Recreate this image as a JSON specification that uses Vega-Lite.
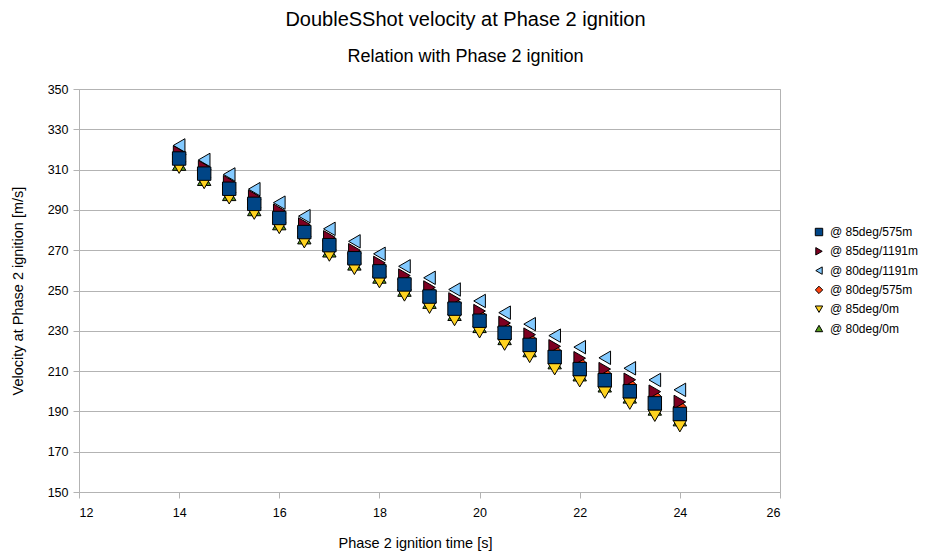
{
  "$schema": "https://vega.github.io/schema/vega-lite/v6.json",
  "width": 701,
  "height": 403,
  "autosize": {"type": "none"},
  "padding": {"left": 79, "top": 89, "right": 150, "bottom": 61},
  "background": "white",
  "config": {
    "font": "Liberation Sans",
    "view": {"stroke": "#b3b3b3", "strokeWidth": 1},
    "axis": {"labelFont": "Liberation Sans", "titleFont": "Liberation Sans", "labelColor": "#000", "titleColor": "#000", "titleFontWeight": "normal", "labelFontSize": 12.5, "titleFontSize": 14.5, "domainColor": "#b3b3b3", "tickColor": "#b3b3b3", "gridColor": "#b3b3b3", "tickSize": 6}
  },
  "title": {
    "text": "DoubleSShot velocity at Phase 2 ignition",
    "subtitle": "Relation with Phase 2 ignition",
    "fontSize": 20,
    "fontWeight": "normal",
    "subtitleFontSize": 18,
    "subtitleColor": "#000",
    "color": "#000",
    "font": "Liberation Sans",
    "subtitleFont": "Liberation Sans",
    "anchor": "middle",
    "dx": 36,
    "offset": 17,
    "subtitlePadding": 18
  },
  "data": {
    "values": [
      {"s": "@ 80deg/0m", "t": 14, "v": 312.5},
      {"s": "@ 80deg/0m", "t": 14.5, "v": 305},
      {"s": "@ 80deg/0m", "t": 15, "v": 297.5},
      {"s": "@ 80deg/0m", "t": 15.5, "v": 290},
      {"s": "@ 80deg/0m", "t": 16, "v": 283},
      {"s": "@ 80deg/0m", "t": 16.5, "v": 276},
      {"s": "@ 80deg/0m", "t": 17, "v": 269.5},
      {"s": "@ 80deg/0m", "t": 17.5, "v": 263},
      {"s": "@ 80deg/0m", "t": 18, "v": 256.5},
      {"s": "@ 80deg/0m", "t": 18.5, "v": 250},
      {"s": "@ 80deg/0m", "t": 19, "v": 244},
      {"s": "@ 80deg/0m", "t": 19.5, "v": 238},
      {"s": "@ 80deg/0m", "t": 20, "v": 232},
      {"s": "@ 80deg/0m", "t": 20.5, "v": 226},
      {"s": "@ 80deg/0m", "t": 21, "v": 220},
      {"s": "@ 80deg/0m", "t": 21.5, "v": 214},
      {"s": "@ 80deg/0m", "t": 22, "v": 208},
      {"s": "@ 80deg/0m", "t": 22.5, "v": 202.5},
      {"s": "@ 80deg/0m", "t": 23, "v": 197},
      {"s": "@ 80deg/0m", "t": 23.5, "v": 191},
      {"s": "@ 80deg/0m", "t": 24, "v": 185.7},

      {"s": "@ 80deg/575m", "t": 14, "v": 317.5},
      {"s": "@ 80deg/575m", "t": 14.5, "v": 310},
      {"s": "@ 80deg/575m", "t": 15, "v": 302.5},
      {"s": "@ 80deg/575m", "t": 15.5, "v": 295},
      {"s": "@ 80deg/575m", "t": 16, "v": 288},
      {"s": "@ 80deg/575m", "t": 16.5, "v": 281},
      {"s": "@ 80deg/575m", "t": 17, "v": 274.6},
      {"s": "@ 80deg/575m", "t": 17.5, "v": 268.2},
      {"s": "@ 80deg/575m", "t": 18, "v": 261.8},
      {"s": "@ 80deg/575m", "t": 18.5, "v": 255.4},
      {"s": "@ 80deg/575m", "t": 19, "v": 249.5},
      {"s": "@ 80deg/575m", "t": 19.5, "v": 243.6},
      {"s": "@ 80deg/575m", "t": 20, "v": 237.7},
      {"s": "@ 80deg/575m", "t": 20.5, "v": 231.8},
      {"s": "@ 80deg/575m", "t": 21, "v": 225.9},
      {"s": "@ 80deg/575m", "t": 21.5, "v": 220},
      {"s": "@ 80deg/575m", "t": 22, "v": 214},
      {"s": "@ 80deg/575m", "t": 22.5, "v": 208.6},
      {"s": "@ 80deg/575m", "t": 23, "v": 203.2},
      {"s": "@ 80deg/575m", "t": 23.5, "v": 197.3},
      {"s": "@ 80deg/575m", "t": 24, "v": 192.2},

      {"s": "@ 85deg/0m", "t": 14, "v": 311},
      {"s": "@ 85deg/0m", "t": 14.5, "v": 303.4},
      {"s": "@ 85deg/0m", "t": 15, "v": 295.8},
      {"s": "@ 85deg/0m", "t": 15.5, "v": 288.2},
      {"s": "@ 85deg/0m", "t": 16, "v": 281.1},
      {"s": "@ 85deg/0m", "t": 16.5, "v": 274},
      {"s": "@ 85deg/0m", "t": 17, "v": 267.4},
      {"s": "@ 85deg/0m", "t": 17.5, "v": 260.8},
      {"s": "@ 85deg/0m", "t": 18, "v": 254.2},
      {"s": "@ 85deg/0m", "t": 18.5, "v": 247.6},
      {"s": "@ 85deg/0m", "t": 19, "v": 241.5},
      {"s": "@ 85deg/0m", "t": 19.5, "v": 235.4},
      {"s": "@ 85deg/0m", "t": 20, "v": 229.3},
      {"s": "@ 85deg/0m", "t": 20.5, "v": 223.2},
      {"s": "@ 85deg/0m", "t": 21, "v": 217.1},
      {"s": "@ 85deg/0m", "t": 21.5, "v": 211},
      {"s": "@ 85deg/0m", "t": 22, "v": 205},
      {"s": "@ 85deg/0m", "t": 22.5, "v": 199.4},
      {"s": "@ 85deg/0m", "t": 23, "v": 193.9},
      {"s": "@ 85deg/0m", "t": 23.5, "v": 187.9},
      {"s": "@ 85deg/0m", "t": 24, "v": 182.7},

      {"s": "@ 80deg/1191m", "t": 14, "v": 322},
      {"s": "@ 80deg/1191m", "t": 14.5, "v": 314.8},
      {"s": "@ 80deg/1191m", "t": 15, "v": 307.6},
      {"s": "@ 80deg/1191m", "t": 15.5, "v": 300.3},
      {"s": "@ 80deg/1191m", "t": 16, "v": 293.6},
      {"s": "@ 80deg/1191m", "t": 16.5, "v": 286.9},
      {"s": "@ 80deg/1191m", "t": 17, "v": 280.6},
      {"s": "@ 80deg/1191m", "t": 17.5, "v": 274.4},
      {"s": "@ 80deg/1191m", "t": 18, "v": 268.2},
      {"s": "@ 80deg/1191m", "t": 18.5, "v": 262},
      {"s": "@ 80deg/1191m", "t": 19, "v": 256.3},
      {"s": "@ 80deg/1191m", "t": 19.5, "v": 250.5},
      {"s": "@ 80deg/1191m", "t": 20, "v": 244.8},
      {"s": "@ 80deg/1191m", "t": 20.5, "v": 239},
      {"s": "@ 80deg/1191m", "t": 21, "v": 233.3},
      {"s": "@ 80deg/1191m", "t": 21.5, "v": 227.6},
      {"s": "@ 80deg/1191m", "t": 22, "v": 221.9},
      {"s": "@ 80deg/1191m", "t": 22.5, "v": 216.6},
      {"s": "@ 80deg/1191m", "t": 23, "v": 211.4},
      {"s": "@ 80deg/1191m", "t": 23.5, "v": 205.6},
      {"s": "@ 80deg/1191m", "t": 24, "v": 200.7},

      {"s": "@ 85deg/1191m", "t": 14, "v": 318.5},
      {"s": "@ 85deg/1191m", "t": 14.5, "v": 311.2},
      {"s": "@ 85deg/1191m", "t": 15, "v": 303.8},
      {"s": "@ 85deg/1191m", "t": 15.5, "v": 296.5},
      {"s": "@ 85deg/1191m", "t": 16, "v": 289.6},
      {"s": "@ 85deg/1191m", "t": 16.5, "v": 282.8},
      {"s": "@ 85deg/1191m", "t": 17, "v": 276.4},
      {"s": "@ 85deg/1191m", "t": 17.5, "v": 270},
      {"s": "@ 85deg/1191m", "t": 18, "v": 263.7},
      {"s": "@ 85deg/1191m", "t": 18.5, "v": 257.4},
      {"s": "@ 85deg/1191m", "t": 19, "v": 251.5},
      {"s": "@ 85deg/1191m", "t": 19.5, "v": 245.6},
      {"s": "@ 85deg/1191m", "t": 20, "v": 239.8},
      {"s": "@ 85deg/1191m", "t": 20.5, "v": 233.9},
      {"s": "@ 85deg/1191m", "t": 21, "v": 228.1},
      {"s": "@ 85deg/1191m", "t": 21.5, "v": 222.3},
      {"s": "@ 85deg/1191m", "t": 22, "v": 216.4},
      {"s": "@ 85deg/1191m", "t": 22.5, "v": 211},
      {"s": "@ 85deg/1191m", "t": 23, "v": 205.7},
      {"s": "@ 85deg/1191m", "t": 23.5, "v": 199.8},
      {"s": "@ 85deg/1191m", "t": 24, "v": 194.7},

      {"s": "@ 85deg/575m", "t": 14, "v": 315.5},
      {"s": "@ 85deg/575m", "t": 14.5, "v": 308},
      {"s": "@ 85deg/575m", "t": 15, "v": 300.5},
      {"s": "@ 85deg/575m", "t": 15.5, "v": 293},
      {"s": "@ 85deg/575m", "t": 16, "v": 286},
      {"s": "@ 85deg/575m", "t": 16.5, "v": 279},
      {"s": "@ 85deg/575m", "t": 17, "v": 272.5},
      {"s": "@ 85deg/575m", "t": 17.5, "v": 266},
      {"s": "@ 85deg/575m", "t": 18, "v": 259.5},
      {"s": "@ 85deg/575m", "t": 18.5, "v": 253},
      {"s": "@ 85deg/575m", "t": 19, "v": 247},
      {"s": "@ 85deg/575m", "t": 19.5, "v": 241},
      {"s": "@ 85deg/575m", "t": 20, "v": 235},
      {"s": "@ 85deg/575m", "t": 20.5, "v": 229},
      {"s": "@ 85deg/575m", "t": 21, "v": 223},
      {"s": "@ 85deg/575m", "t": 21.5, "v": 217},
      {"s": "@ 85deg/575m", "t": 22, "v": 211},
      {"s": "@ 85deg/575m", "t": 22.5, "v": 205.5},
      {"s": "@ 85deg/575m", "t": 23, "v": 200},
      {"s": "@ 85deg/575m", "t": 23.5, "v": 194},
      {"s": "@ 85deg/575m", "t": 24, "v": 188.7}
    ]
  },
  "mark": {"type": "point", "filled": true, "stroke": "#000", "strokeWidth": 1, "opacity": 1, "size": 180},
  "encoding": {
    "x": {
      "field": "t", "type": "quantitative",
      "scale": {"domain": [12, 26], "nice": false, "zero": false},
      "axis": {"values": [12, 14, 16, 18, 20, 22, 24, 26], "grid": false, "title": "Phase 2 ignition time [s]", "labelPadding": 8, "titlePadding": 18, "titleX": 336}
    },
    "y": {
      "field": "v", "type": "quantitative",
      "scale": {"domain": [150, 350], "nice": false, "zero": false},
      "axis": {"values": [150, 170, 190, 210, 230, 250, 270, 290, 310, 330, 350], "grid": true, "title": "Velocity at Phase 2 ignition [m/s]", "labelPadding": 5, "titlePadding": 22}
    },
    "color": {
      "field": "s", "type": "nominal",
      "scale": {
        "domain": ["@ 85deg/575m", "@ 85deg/1191m", "@ 80deg/1191m", "@ 80deg/575m", "@ 85deg/0m", "@ 80deg/0m"],
        "range": ["#004586", "#7e0021", "#83caff", "#ff420e", "#ffd320", "#579d1c"]
      },
      "legend": {
        "title": null, "orient": "none", "legendX": 734, "legendY": 137,
        "labelFontSize": 12, "labelFont": "Liberation Sans", "labelColor": "#000",
        "symbolSize": 55, "symbolStrokeColor": "#000", "symbolStrokeWidth": 1,
        "rowPadding": 7.3, "labelOffset": 5
      }
    },
    "shape": {
      "field": "s", "type": "nominal",
      "scale": {
        "domain": ["@ 85deg/575m", "@ 85deg/1191m", "@ 80deg/1191m", "@ 80deg/575m", "@ 85deg/0m", "@ 80deg/0m"],
        "range": ["square", "triangle-right", "triangle-left", "diamond", "triangle-down", "triangle-up"]
      },
      "legend": {
        "title": null, "orient": "none", "legendX": 734, "legendY": 137,
        "labelFontSize": 12, "labelFont": "Liberation Sans", "labelColor": "#000",
        "symbolSize": 55, "symbolStrokeColor": "#000", "symbolStrokeWidth": 1,
        "rowPadding": 7.3, "labelOffset": 5
      }
    }
  }
}
